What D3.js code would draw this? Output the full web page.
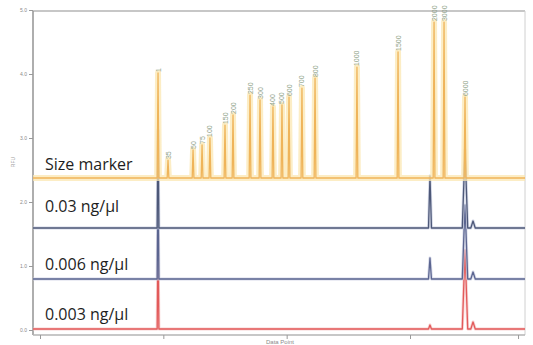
<!DOCTYPE html>
<html>
<head>
<meta charset="utf-8">
<script src="https://cdn.jsdelivr.net/npm/d3@7"></script>
<style>
  html, body { margin: 0; padding: 0; background: #fff; }
  svg { display: block; }
</style>
</head>
<body>
<svg id="chart" width="533" height="345"></svg>
<script>
// ---- data -------------------------------------------------------------
// ladder fragment sizes (bp) and where each one elutes (data points)
const ladderSizes   = ["1", "35", "50", "75", "100", "150", "200", "250", "300", "400",
                       "500", "600", "700", "800", "1000", "1500", "2000", "3000", "6000"];
const ladderPoints  = [1957, 2038, 2241, 2314, 2378, 2500, 2565, 2703, 2784, 2889,
                       2962, 3019, 3124, 3230, 3570, 3903, 4195, 4276, 4446];
const ladderRFU     = [3750, 640, 1000, 1180, 1430, 1890, 2250, 2960, 2790, 2540,
                       2610, 2890, 3210, 3570, 3960, 4500, 5570, 5570, 2890];

// sample traces: lower marker, library peak, upper marker and its shoulder
const samplePoints  = [1957, 4162, 4446, 4511];
const sampleWidths  = [7, 12, 22, 18];
const sample003RFU  = [3920, 2080, 3120, 280];   // 0.03 ng/µl
const sample0006RFU = [3960, 840, 2960, 280];    // 0.006 ng/µl
const sample0003RFU = [3760, 160, 3160, 280];    // 0.003 ng/µl

const traceNames = ["Size marker", "0.03 ng/µl", "0.006 ng/µl", "0.003 ng/µl"];
const yTickLabels = ["0.0", "1.0", "2.0", "3.0", "4.0", "5.0"];
const xTickValues = [1000, 2000, 3000, 4000, 4876];

// ---- layout -----------------------------------------------------------
const svg = d3.select("#chart");
const plotLeft = 33, plotRight = 525, plotTop = 11, plotBottom = 335;

const x = d3.scaleLinear().domain([1000, 4000]).range([40, 410]);
const xMin = x.invert(plotLeft), xMax = x.invert(plotRight);

// one vertical scale per stacked trace, each with its own baseline
const yLadder = d3.scaleLinear().domain([0, 6000]).range([178, 10]);
const ySample = base => d3.scaleLinear().domain([0, 2000]).range([base, base - 50]);
const y003  = ySample(228);
const y0006 = ySample(279);
const y0003 = ySample(329);

// overall left axis
const yAxisScale = d3.scaleLinear().domain([0, 5]).range([330, 10]);

// ---- frame ------------------------------------------------------------
const frame = svg.append("g");
frame.append("line").attr("x1", plotLeft).attr("x2", plotRight).attr("y1", plotTop).attr("y2", plotTop)
  .attr("stroke", "#b4b4b4").attr("stroke-width", 1.5);
frame.append("line").attr("x1", plotRight).attr("x2", plotRight).attr("y1", plotTop).attr("y2", plotBottom)
  .attr("stroke", "#d0d0d0").attr("stroke-width", 1);

// y axis
const yAxis = d3.axisLeft(yAxisScale)
  .tickValues(d3.range(0, 6))
  .tickFormat((d, i) => yTickLabels[i])
  .tickSize(4).tickPadding(2);
const gy = svg.append("g").attr("transform", `translate(${plotLeft},0)`).call(yAxis);
gy.select(".domain").attr("stroke", "#9a9a9a").attr("stroke-width", 1.6)
  .attr("d", `M0,${plotTop}V${plotBottom}`);
gy.selectAll(".tick line").attr("stroke", "#9a9a9a");
gy.selectAll(".tick text").attr("fill", "#8a8a8a").style("font-size", "5px")
  .style("font-family", "Liberation Sans, sans-serif");

svg.append("text")
  .attr("transform", "translate(15,162) rotate(-90)")
  .attr("text-anchor", "middle")
  .attr("fill", "#9a9a9a").style("font-size", "5px")
  .style("font-family", "Liberation Sans, sans-serif")
  .text("RFU");

// x axis
const xAxis = d3.axisBottom(x).tickValues(xTickValues).tickFormat("").tickSize(4);
const gx = svg.append("g").attr("transform", `translate(0,${plotBottom})`).call(xAxis);
gx.select(".domain").attr("stroke", "#b4b4b4").attr("stroke-width", 1.5)
  .attr("d", `M${plotLeft},0H${plotRight}`);
gx.selectAll(".tick line").attr("stroke", "#9a9a9a");

svg.append("text")
  .attr("x", 280).attr("y", 343.5)
  .attr("text-anchor", "middle")
  .attr("fill", "#8a8a8a").style("font-size", "6px")
  .style("font-family", "Liberation Sans, sans-serif")
  .text("Data Point");

// ---- traces -----------------------------------------------------------
// build a trace path: flat baseline with a spike at every peak
function tracePoints(points, heights, widths) {
  const pts = [[xMin, 0]];
  points.forEach((p, i) => {
    const w = Array.isArray(widths) ? widths[i] : widths;
    pts.push([p - w, 0], [p, heights[i]], [p + w, 0]);
  });
  pts.push([xMax, 0]);
  return pts;
}

function drawTrace(points, heights, widths, yScale, color, glow, glowWidth) {
  const line = d3.line().x(d => x(d[0])).y(d => yScale(d[1]));
  const data = tracePoints(points, heights, widths);
  if (glow) {
    svg.append("path").attr("d", line(data)).attr("fill", "none")
      .attr("stroke", glow).attr("stroke-width", glowWidth)
      .attr("stroke-linejoin", "round").attr("opacity", 0.75);
  }
  svg.append("path").attr("d", line(data)).attr("fill", "none")
    .attr("stroke", color).attr("stroke-width", 1.3)
    .attr("stroke-linejoin", "round");
}

// samples first so the ladder sits on top of them
drawTrace(samplePoints, sample0003RFU, sampleWidths, y0003, "#e25a5a", "#f6c4c4", 3);
drawTrace(samplePoints, sample0006RFU, sampleWidths, y0006, "#5b6590", "#c9cde2", 3);
drawTrace(samplePoints, sample003RFU,  sampleWidths, y003,  "#4d5878", "#c6cbdf", 3);
drawTrace(ladderPoints, ladderRFU, 7, yLadder, "#efb45a", "#fbe7b2", 6);

// ladder peak labels
svg.append("g").selectAll("text")
  .data(ladderPoints)
  .join("text")
  .attr("transform", (d, i) => `translate(${x(d) + 2.5},${yLadder(ladderRFU[i]) - 1}) rotate(-90)`)
  .attr("fill", "#8ea287")
  .style("font-size", "7px")
  .style("font-family", "Liberation Sans, sans-serif")
  .text((d, i) => ladderSizes[i]);

// trace names
const nameBaselines = [170, 212, 270, 320];
svg.append("g").selectAll("text")
  .data(traceNames)
  .join("text")
  .attr("x", 45)
  .attr("y", (d, i) => nameBaselines[i])
  .attr("fill", "#1e1e1e")
  .style("font-size", "16px")
  .style("font-family", "Open Sans, sans-serif")
  .text(d => d);
</script>
</body>
</html>
